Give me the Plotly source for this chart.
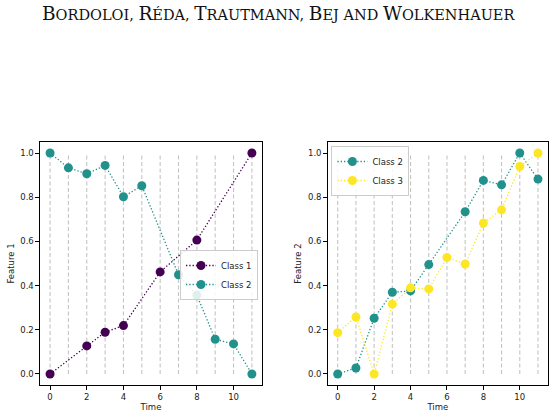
import plotly.graph_objects as go

# ---- data ----
time_grid = list(range(12))

left_c1_t = [0, 2, 3, 4, 6, 8, 11]
left_c1_v = [0.0, 0.127, 0.189, 0.219, 0.462, 0.606, 1.0]

left_c2_t = [0, 1, 2, 3, 4, 5, 7, 8, 9, 10, 11]
left_c2_v = [1.0, 0.933, 0.906, 0.944, 0.802, 0.852, 0.449, 0.357, 0.157, 0.136, 0.0]

right_c2_t = [0, 1, 2, 3, 4, 5, 7, 8, 9, 10, 11]
right_c2_v = [0.0, 0.027, 0.252, 0.370, 0.376, 0.495, 0.734, 0.876, 0.856, 1.0, 0.882]

right_c3_t = list(range(12))
right_c3_v = [0.187, 0.258, 0.0, 0.316, 0.390, 0.385, 0.527, 0.498, 0.683, 0.743, 0.939, 1.0]

x_ticks = [0, 2, 4, 6, 8, 10]
y_ticks = [0.0, 0.2, 0.4, 0.6, 0.8, 1.0]
y_labels = ["0.0", "0.2", "0.4", "0.6", "0.8", "1.0"]

title_words = ["Bordoloi,", "Réda,", "Trautmann,", "Bej", "and", "Wolkenhauer"]

C1 = "#440154"
C2 = "#21918c"
C3 = "#fde725"
FONT = "DejaVu Sans"

fig = go.Figure()


def vlines(xa, ya):
    xs, ys = [], []
    for t in time_grid:
        xs += [t, t, None]
        ys += [0, 1, None]
    fig.add_trace(go.Scatter(x=xs, y=ys, mode="lines", xaxis=xa, yaxis=ya,
                             line=dict(color="#c4c4c4", width=1.1, dash="4px,2.5px"),
                             showlegend=False, hoverinfo="skip"))


def series(t, v, color, name, xa, ya, legend):
    fig.add_trace(go.Scatter(x=t, y=v, mode="lines+markers", name=name,
                             xaxis=xa, yaxis=ya, legend=legend,
                             line=dict(color=color, width=1.3, dash="1.3px,2px"),
                             marker=dict(color=color, size=9)))


vlines("x", "y")
series(left_c1_t, left_c1_v, C1, "Class 1", "x", "y", "legend")
series(left_c2_t, left_c2_v, C2, "Class 2", "x", "y", "legend")
vlines("x2", "y2")
series(right_c2_t, right_c2_v, C2, "Class 2", "x2", "y2", "legend2")
series(right_c3_t, right_c3_v, C3, "Class 3", "x2", "y2", "legend2")

ydom = [0.0789, 0.6603]
axis_common = dict(showline=True, mirror=True, linecolor="black", linewidth=1,
                   ticks="outside", ticklen=3.5, tickwidth=0.8, tickcolor="black",
                   showgrid=False, zeroline=False,
                   tickfont=dict(family=FONT, size=8.5, color="#222"))


def title_html():
    parts = []
    for w in title_words:
        first, rest = w[0], w[1:]
        if first.isupper():
            parts.append(f"<span style='font-size:18.5px'>{first}</span>"
                         f"<span style='font-size:14.5px'>{rest.upper()}</span>")
        else:
            parts.append(f"<span style='font-size:14.5px'>{w.upper()}</span>")
    return " ".join(parts)


leg_common = dict(bgcolor="rgba(255,255,255,0.85)", bordercolor="#cccccc", borderwidth=1,
                  font=dict(family=FONT, size=8.5, color="#222"),
                  tracegroupgap=0, itemsizing="trace")

fig.update_layout(
    width=556, height=418,
    margin=dict(l=0, r=0, t=0, b=0),
    paper_bgcolor="white", plot_bgcolor="white",
    showlegend=True,
    xaxis=dict(domain=[0.0719, 0.4712], range=[-0.55, 11.55], tickvals=x_ticks,
               title=dict(text="Time", font=dict(family=FONT, size=8.5, color="#222"), standoff=2),
               anchor="y", **axis_common),
    yaxis=dict(domain=ydom, range=[-0.05, 1.05], tickvals=y_ticks, ticktext=y_labels,
               title=dict(text="Feature 1", font=dict(family=FONT, size=8.5, color="#222"), standoff=4),
               anchor="x", **axis_common),
    xaxis2=dict(domain=[0.5894, 0.9856], range=[-0.55, 11.55], tickvals=x_ticks,
                title=dict(text="Time", font=dict(family=FONT, size=8.5, color="#222"), standoff=2),
                anchor="y2", **axis_common),
    yaxis2=dict(domain=ydom, range=[-0.05, 1.05], tickvals=y_ticks, ticktext=y_labels,
                title=dict(text="Feature 2", font=dict(family=FONT, size=8.5, color="#222"), standoff=4),
                anchor="x2", **axis_common),
    legend=dict(x=0.4640, y=1 - 250 / 418, xanchor="right", yanchor="top", **leg_common),
    legend2=dict(x=0.5960, y=1 - 146 / 418, xanchor="left", yanchor="top", **leg_common),
    annotations=[dict(text=title_html(), x=0.5, y=1 - 14 / 418, xref="paper", yref="paper",
                      xanchor="center", yanchor="middle", showarrow=False,
                      font=dict(family="DejaVu Serif", size=14.5, color="#111"))],
)

fig.write_html("out.html")
